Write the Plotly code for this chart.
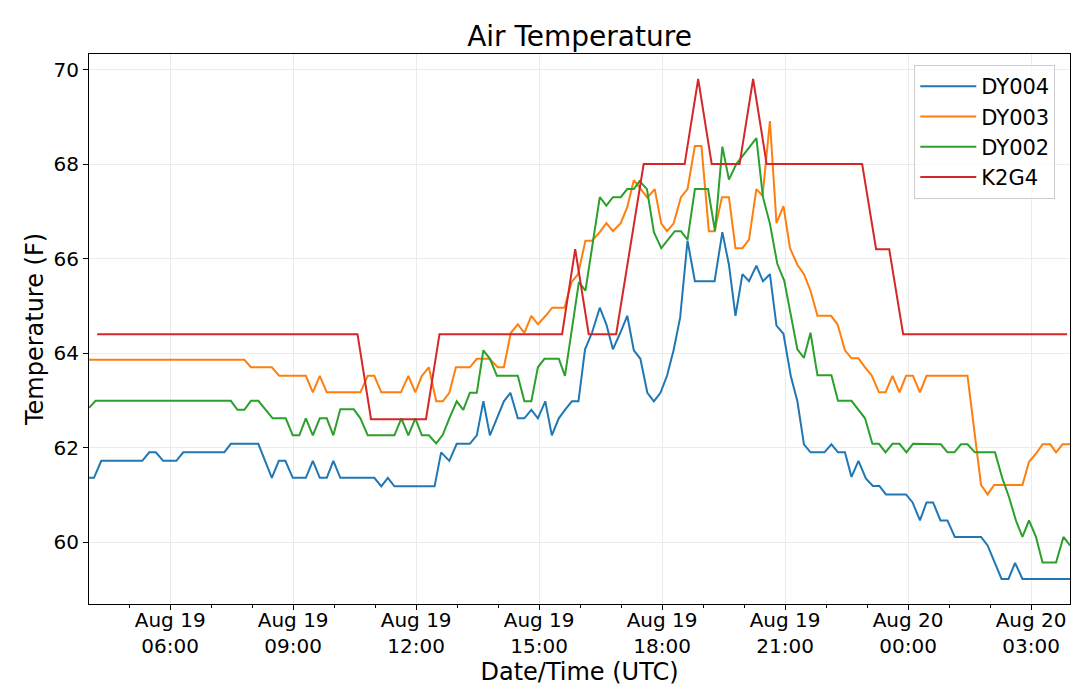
import pandas as pd
import plotly.graph_objects as go

OUTPUT_HTML = "out.html"
DAY0 = pd.Timestamp("2019-08-19")

# hours after Aug 19 00:00 UTC, air temperature (F)
DY004_HOURS = [
    4.02, 4.14, 4.32, 5.32, 5.49, 5.65, 5.83, 6.15, 6.32, 7.32, 7.48, 8.15,
    8.48, 8.65, 8.81, 8.99, 9.31, 9.48, 9.65, 9.82, 9.98, 10.15, 10.98, 11.15,
    11.31, 11.47, 12.45, 12.61, 12.81, 12.99, 13.31, 13.48, 13.64, 13.80, 13.97,
    14.14, 14.30, 14.48, 14.64, 14.81, 14.97, 15.15, 15.31, 15.48, 15.63, 15.80,
    15.96, 16.12, 16.29, 16.48, 16.64, 16.80, 16.98, 17.15, 17.31, 17.47, 17.64,
    17.80, 17.96, 18.12, 18.28, 18.44, 18.62, 18.80, 19.28, 19.47, 19.63, 19.79,
    19.96, 20.12, 20.30, 20.46, 20.63, 20.79, 20.96, 21.14, 21.30, 21.46, 21.62,
    21.96, 22.13, 22.29, 22.46, 22.62, 22.79, 22.97, 23.14, 23.30, 23.46, 23.95,
    24.11, 24.29, 24.45, 24.61, 24.79, 24.96, 25.14, 25.78, 25.94, 26.28, 26.45,
    26.61, 26.79, 27.95,
]
DY004_TEMP = [
    61.36, 61.36, 61.72, 61.72, 61.90, 61.90, 61.72, 61.72, 61.90, 61.90, 62.08, 62.08,
    61.36, 61.72, 61.72, 61.36, 61.36, 61.72, 61.36, 61.36, 61.72, 61.36, 61.36, 61.18,
    61.36, 61.18, 61.18, 61.90, 61.72, 62.08, 62.08, 62.26, 62.98, 62.26, 62.62,
    62.98, 63.16, 62.62, 62.62, 62.80, 62.62, 62.98, 62.26, 62.62, 62.80, 62.98,
    62.98, 64.08, 64.43, 64.96, 64.61, 64.08, 64.43, 64.79, 64.06, 63.88, 63.16,
    62.98, 63.16, 63.52, 64.06, 64.75, 66.38, 65.52, 65.52, 66.56, 65.87, 64.79,
    65.67, 65.52, 65.85, 65.52, 65.67, 64.58, 64.41, 63.51, 62.98, 62.07, 61.90,
    61.90, 62.07, 61.90, 61.90, 61.38, 61.72, 61.35, 61.19, 61.19, 61.01, 61.01,
    60.84, 60.46, 60.84, 60.84, 60.46, 60.46, 60.11, 60.11, 59.93, 59.22, 59.22,
    59.56, 59.22, 59.22,
]

DY003_HOURS = [
    4.02, 7.81, 7.97, 8.48, 8.66, 9.31, 9.48, 9.65, 9.82, 10.64, 10.82, 10.98,
    11.15, 11.63, 11.81, 11.98, 12.14, 12.31, 12.49, 12.65, 12.81, 12.97, 13.31,
    13.48, 13.79, 13.99, 14.14, 14.31, 14.48, 14.64, 14.81, 14.97, 15.16, 15.32,
    15.62, 15.79, 15.95, 16.13, 16.29, 16.48, 16.64, 16.80, 16.99, 17.15, 17.31,
    17.48, 17.64, 17.82, 17.98, 18.12, 18.28, 18.46, 18.62, 18.80, 18.96, 19.14,
    19.28, 19.46, 19.63, 19.79, 19.96, 20.12, 20.30, 20.45, 20.63, 20.79, 20.96,
    21.12, 21.30, 21.46, 21.62, 21.79, 22.12, 22.28, 22.46, 22.62, 22.79, 22.95,
    23.11, 23.29, 23.45, 23.62, 23.79, 23.95, 24.12, 24.29, 24.45, 25.45, 25.78,
    25.94, 26.10, 26.79, 26.95, 27.12, 27.28, 27.47, 27.61, 27.77, 27.95,
]
DY003_TEMP = [
    63.86, 63.86, 63.70, 63.70, 63.52, 63.52, 63.17, 63.52, 63.17, 63.17, 63.52, 63.52,
    63.17, 63.17, 63.52, 63.17, 63.52, 63.70, 62.98, 62.98, 63.16, 63.70, 63.70,
    63.88, 63.88, 63.70, 63.70, 64.43, 64.61, 64.43, 64.79, 64.61, 64.79, 64.96,
    64.96, 65.50, 65.67, 66.38, 66.38, 66.56, 66.75, 66.58, 66.75, 67.09, 67.66,
    67.46, 67.29, 67.47, 66.74, 66.58, 66.74, 67.30, 67.47, 68.38, 68.38, 66.58,
    66.58, 67.30, 67.30, 66.22, 66.22, 66.40, 67.47, 67.33, 68.91, 66.75, 67.11,
    66.22, 65.87, 65.67, 65.32, 64.79, 64.79, 64.61, 64.06, 63.89, 63.89, 63.70,
    63.53, 63.17, 63.17, 63.52, 63.17, 63.52, 63.52, 63.17, 63.52, 63.52, 61.21,
    61.01, 61.21, 61.21, 61.70, 61.87, 62.07, 62.07, 61.90, 62.07, 62.07,
]

DY002_HOURS = [
    4.02, 4.18, 7.48, 7.64, 7.81, 7.97, 8.15, 8.50, 8.82, 8.99, 9.15, 9.31,
    9.48, 9.65, 9.82, 9.98, 10.15, 10.48, 10.64, 10.82, 11.47, 11.64, 11.81,
    11.98, 12.14, 12.31, 12.49, 12.65, 12.81, 12.99, 13.15, 13.31, 13.48, 13.64,
    13.80, 13.97, 14.48, 14.64, 14.81, 14.97, 15.13, 15.48, 15.63, 15.97, 16.13,
    16.48, 16.64, 16.80, 16.99, 17.15, 17.31, 17.45, 17.63, 17.80, 17.98, 18.14,
    18.31, 18.46, 18.62, 18.80, 19.12, 19.29, 19.47, 19.63, 19.81, 19.97, 20.13,
    20.30, 20.46, 20.63, 20.81, 20.98, 21.30, 21.46, 21.62, 21.79, 22.13, 22.29,
    22.62, 22.79, 22.95, 23.13, 23.29, 23.45, 23.62, 23.79, 23.96, 24.12, 24.80,
    24.96, 25.13, 25.29, 25.45, 25.63, 26.12, 26.30, 26.46, 26.63, 26.79, 26.95,
    27.12, 27.28, 27.61, 27.79, 27.95,
]
DY002_TEMP = [
    62.84, 62.99, 62.99, 62.80, 62.80, 62.99, 62.99, 62.62, 62.62, 62.26, 62.26, 62.62,
    62.26, 62.62, 62.62, 62.26, 62.81, 62.81, 62.62, 62.26, 62.26, 62.62, 62.26,
    62.62, 62.26, 62.26, 62.09, 62.27, 62.62, 62.98, 62.80, 63.16, 63.16, 64.06,
    63.88, 63.52, 63.52, 62.98, 62.98, 63.70, 63.88, 63.88, 63.52, 65.50, 65.32,
    67.30, 67.12, 67.30, 67.30, 67.47, 67.47, 67.64, 67.47, 66.56, 66.22, 66.40,
    66.58, 66.58, 66.40, 67.47, 67.47, 66.58, 68.37, 67.67, 68.00, 68.18, 68.37,
    68.55, 67.30, 66.74, 65.89, 65.53, 64.08, 63.90, 64.43, 63.53, 63.53, 62.99,
    62.99, 62.80, 62.62, 62.08, 62.08, 61.90, 62.08, 62.08, 61.90, 62.08, 62.07,
    61.90, 61.90, 62.07, 62.07, 61.90, 61.90, 61.35, 60.96, 60.46, 60.11, 60.46,
    60.11, 59.57, 59.57, 60.11, 59.93,
]

K2G4_HOURS = [
    4.22, 10.57, 10.90, 12.24, 12.57, 15.56, 15.88, 16.21, 16.88, 17.22, 17.55,
    18.55, 18.88, 19.21, 19.89, 20.22, 20.55, 22.88, 23.22, 23.54, 23.88, 27.88,
]
K2G4_TEMP = [
    64.4, 64.4, 62.6, 62.6, 64.4, 64.4, 66.2, 64.4, 64.4, 66.2, 68.0,
    68.0, 69.8, 68.0, 68.0, 69.8, 68.0, 68.0, 66.2, 66.2, 64.4, 64.4,
]

STATIONS = ["DY004", "DY003", "DY002", "K2G4"]
COLORS = ["#1f77b4", "#ff7f0e", "#2ca02c", "#d62728"]


def to_times(hours):
    return [DAY0 + pd.Timedelta(hours=h) for h in hours]


def main():
    series = [
        (DY004_HOURS, DY004_TEMP),
        (DY003_HOURS, DY003_TEMP),
        (DY002_HOURS, DY002_TEMP),
        (K2G4_HOURS, K2G4_TEMP),
    ]

    fig = go.Figure()
    for name, color, (hours, temps) in zip(STATIONS, COLORS, series):
        fig.add_trace(
            go.Scatter(
                x=to_times(hours),
                y=temps,
                mode="lines",
                name=name,
                line=dict(color=color, width=2),
            )
        )

    # matplotlib-like limits: x tight to the data, y with 5% padding
    all_hours = [h for hs, _ in series for h in hs]
    all_temps = [t for _, ts in series for t in ts]
    lo, hi = min(all_temps), max(all_temps)
    pad = 0.05 * (hi - lo)

    font = "DejaVu Sans, Arial, sans-serif"
    fig.update_layout(
        width=1079,
        height=697,
        margin=dict(l=89, r=9, t=54, b=93),
        paper_bgcolor="white",
        plot_bgcolor="white",
        font=dict(family=font, size=20, color="black"),
        title=dict(
            text="Air Temperature",
            x=0.5,
            xref="paper",
            xanchor="center",
            y=1 - 36 / 697,
            yref="container",
            yanchor="middle",
            font=dict(size=28),
        ),
        legend=dict(
            x=0.985,
            y=0.98,
            xanchor="right",
            yanchor="top",
            bgcolor="rgba(255,255,255,0.8)",
            bordercolor="#cccccc",
            borderwidth=1,
            itemwidth=56,
            font=dict(size=21),
        ),
    )
    fig.update_xaxes(
        title=dict(text="Date/Time (UTC)", standoff=0),
        range=[DAY0 + pd.Timedelta(hours=min(all_hours)),
               DAY0 + pd.Timedelta(hours=max(all_hours))],
        tick0=DAY0,
        dtick=3 * 3600 * 1000,
        tickformat="%b %d<br>%H:%M",
        ticks="outside",
        ticklen=5,
        ticklabelstandoff=-7,
        tickcolor="black",
        showline=True,
        linecolor="black",
        mirror=True,
        showgrid=True,
        gridcolor="#ebebeb",
        zeroline=False,
        minor=dict(dtick=3600 * 1000, ticks="outside", ticklen=3,
                   tickcolor="black", showgrid=False),
    )
    fig.update_yaxes(
        title=dict(text="Temperature (F)", standoff=3),
        range=[lo - pad, hi + pad],
        dtick=2,
        ticks="outside",
        ticklen=5,
        tickcolor="black",
        showline=True,
        linecolor="black",
        mirror=True,
        showgrid=True,
        gridcolor="#ebebeb",
        zeroline=False,
    )

    fig.write_html(
        OUTPUT_HTML,
        config={"displayModeBar": False},
        post_script="document.body.style.margin = '0';",
    )
    print(f"Saved chart to {OUTPUT_HTML}")


if __name__ == "__main__":
    main()
